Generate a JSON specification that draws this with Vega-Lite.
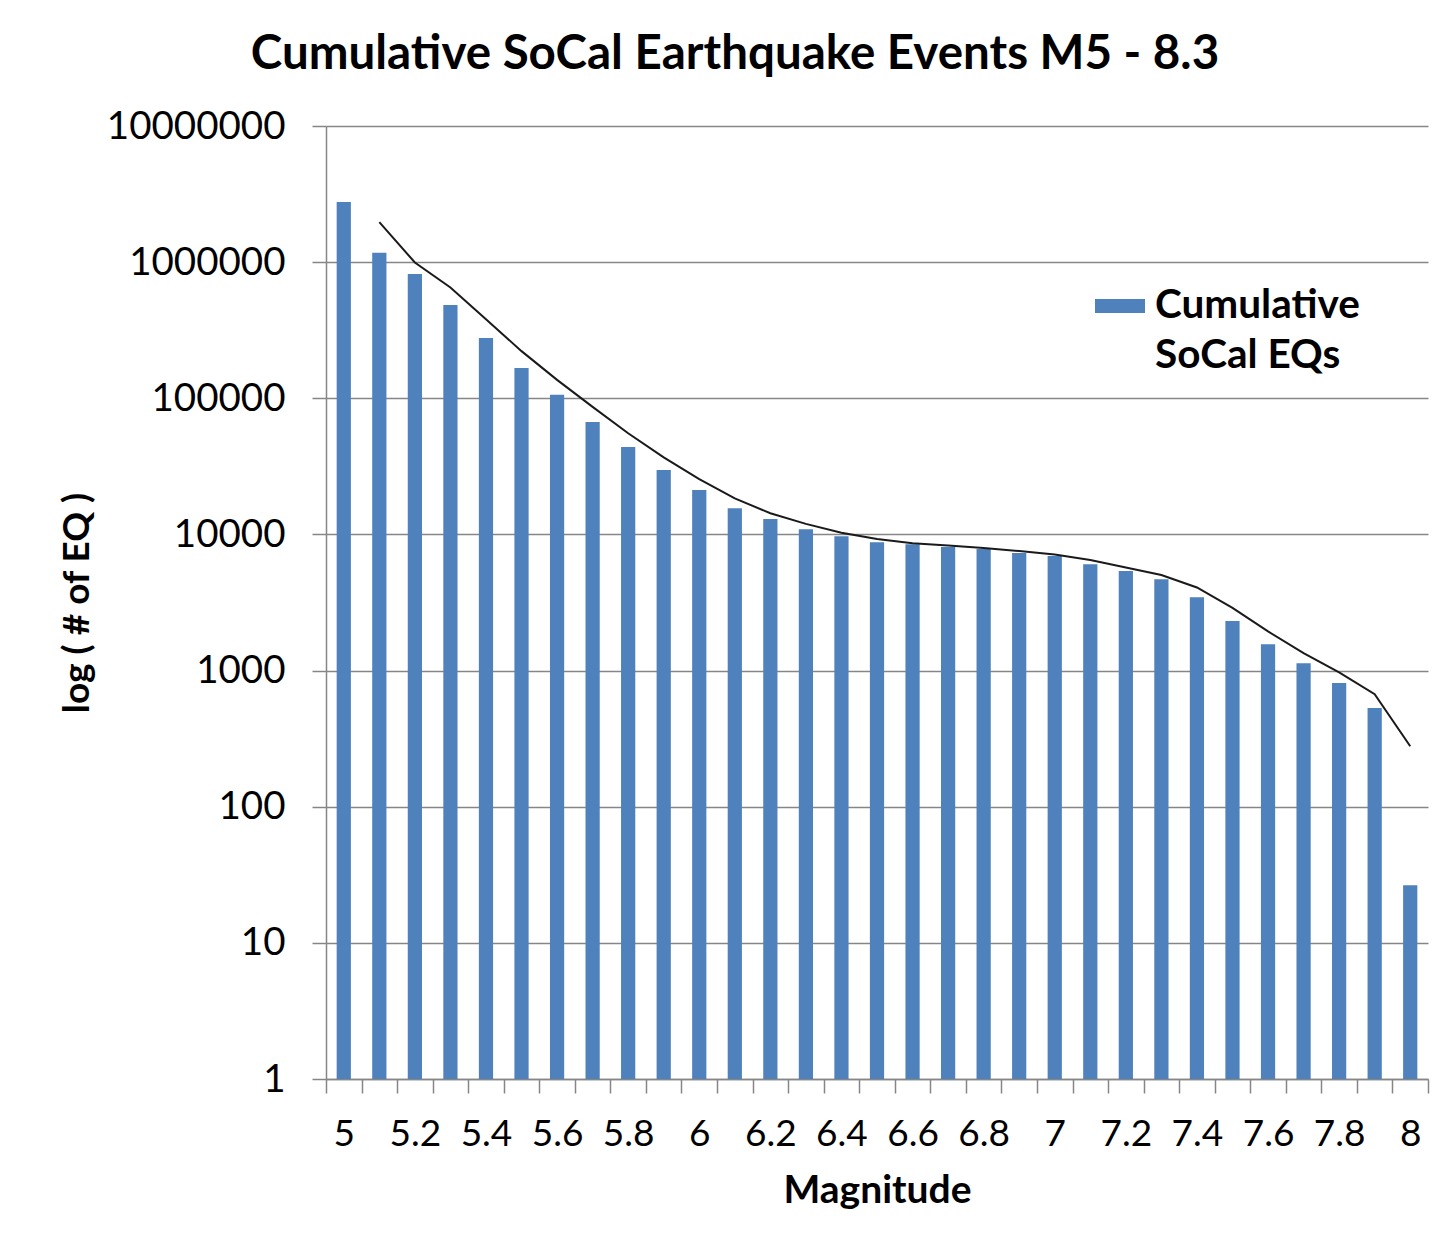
{
  "$schema": "https://vega.github.io/schema/vega-lite/v6.json",
  "width": 1102,
  "height": 953,
  "autosize": {"type": "none"},
  "padding": {"left": 326, "top": 126, "right": 18, "bottom": 163},
  "background": "white",
  "title": {
    "text": "Cumulative SoCal Earthquake Events M5 - 8.3",
    "font": "Lato",
    "fontSize": 47.5,
    "fontWeight": "bold",
    "color": "#000000",
    "anchor": "middle",
    "dx": -142,
    "offset": -9,
    "baseline": "alphabetic"
  },
  "data": {
    "values": [
      {"mag": 5.0, "count": 2770000, "avg": null},
      {"mag": 5.1, "count": 1170000, "avg": 1970000},
      {"mag": 5.2, "count": 818000, "avg": 994000},
      {"mag": 5.3, "count": 484000, "avg": 651000},
      {"mag": 5.4, "count": 277000, "avg": 381000},
      {"mag": 5.5, "count": 167000, "avg": 222000},
      {"mag": 5.6, "count": 106000, "avg": 136500},
      {"mag": 5.7, "count": 66900, "avg": 86500},
      {"mag": 5.8, "count": 43800, "avg": 55400},
      {"mag": 5.9, "count": 29700, "avg": 36800},
      {"mag": 6.0, "count": 21200, "avg": 25500},
      {"mag": 6.1, "count": 15600, "avg": 18400},
      {"mag": 6.2, "count": 13000, "avg": 14300},
      {"mag": 6.3, "count": 10900, "avg": 11950},
      {"mag": 6.4, "count": 9700, "avg": 10300},
      {"mag": 6.5, "count": 8770, "avg": 9240},
      {"mag": 6.6, "count": 8480, "avg": 8630},
      {"mag": 6.7, "count": 8070, "avg": 8280},
      {"mag": 6.8, "count": 7800, "avg": 7940},
      {"mag": 6.9, "count": 7290, "avg": 7550},
      {"mag": 7.0, "count": 6930, "avg": 7110},
      {"mag": 7.1, "count": 6050, "avg": 6490},
      {"mag": 7.2, "count": 5380, "avg": 5720},
      {"mag": 7.3, "count": 4690, "avg": 5040},
      {"mag": 7.4, "count": 3460, "avg": 4080},
      {"mag": 7.5, "count": 2310, "avg": 2890},
      {"mag": 7.6, "count": 1560, "avg": 1940},
      {"mag": 7.7, "count": 1130, "avg": 1345},
      {"mag": 7.8, "count": 809, "avg": 970},
      {"mag": 7.9, "count": 530, "avg": 670},
      {"mag": 8.0, "count": 26.5, "avg": 278}
    ]
  },
  "encoding": {
    "x": {
      "field": "mag",
      "type": "ordinal",
      "title": "Magnitude",
      "scale": {"paddingInner": 0, "paddingOuter": 0},
      "axis": {
        "tickBand": "extent",
        "labelAngle": 0,
        "labelExpr": "round(datum.value * 10) % 2 === 0 ? datum.label : ''",
        "labelPadding": 23,
        "titlePadding": 19,
        "titleFontSize": 39
      }
    }
  },
  "layer": [
    {
      "mark": {"type": "bar", "width": {"band": 0.4}},
      "encoding": {
        "y": {
          "field": "count",
          "type": "quantitative",
          "title": "log ( # of EQ )",
          "scale": {"type": "log", "domain": [1, 10000000]},
          "axis": {
            "values": [1, 10, 100, 1000, 10000, 100000, 1000000, 10000000],
            "format": "d",
            "grid": true,
            "labelPadding": 27,
            "labelFontSize": 38.5,
            "titlePadding": 30,
            "titleFontSize": 37
          }
        },
        "y2": {"datum": 1},
        "color": {
          "datum": "Cumulative SoCal EQs",
          "scale": {"range": ["#4F81BD"]},
          "legend": {
            "orient": "none",
            "legendX": 769,
            "legendY": 155,
            "title": null,
            "labelFont": "Lato",
            "labelFontSize": 40.5,
            "labelFontWeight": "bold",
            "labelColor": "#000000",
            "symbolType": "M-1,-0.28H1V0.28H-1Z",
            "symbolSize": 2500,
            "symbolStrokeWidth": 0,
            "labelOffset": 10,
            "labelLimit": 0,
            "labelExpr": "['Cumulative', 'SoCal EQs']"
          }
        }
      }
    },
    {
      "transform": [{"filter": "datum.avg != null"}],
      "mark": {"type": "line", "color": "#1a1a1a", "strokeWidth": 2},
      "encoding": {
        "y": {
          "field": "avg",
          "type": "quantitative",
          "title": "log ( # of EQ )"
        }
      }
    }
  ],
  "config": {
    "view": {"stroke": null},
    "style": {"guide-label": {"lineHeight": 50}},
    "axis": {
      "labelFont": "Lato",
      "labelFontSize": 37,
      "labelColor": "#000000",
      "titleFont": "Lato",
      "titleFontWeight": "bold",
      "titleColor": "#000000",
      "domainColor": "#868686",
      "domainWidth": 1.5,
      "tickColor": "#868686",
      "tickWidth": 1.5,
      "tickSize": 14,
      "gridColor": "#868686",
      "gridWidth": 1.3
    }
  }
}
